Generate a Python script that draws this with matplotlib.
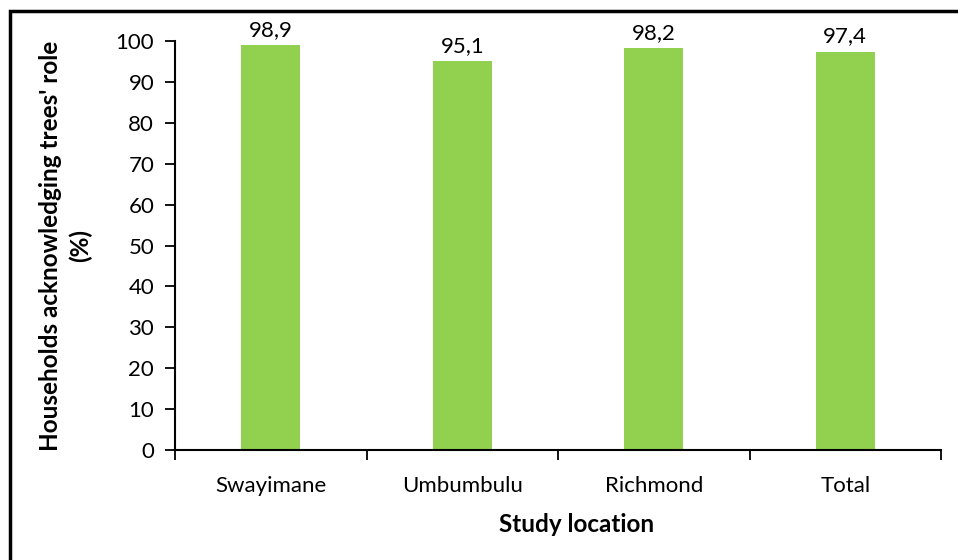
import matplotlib.pyplot as plt
from matplotlib.patches import Rectangle
from matplotlib.ticker import FixedLocator

plt.rcParams['font.family'] = ['Lato', 'DejaVu Sans']

# Data
locations = ['Swayimane', 'Umbumbulu', 'Richmond', 'Total']
percent = [98.9, 95.1, 98.2, 97.4]

fig = plt.figure(figsize=(9.58, 5.6), dpi=100)
ax = fig.add_axes([175 / 958, 110 / 560, 766 / 958, 409 / 560])

x = list(range(len(locations)))
bars = ax.bar(x, percent, width=0.31, color='#92D050')

# Data labels with comma decimal separator
for b, v in zip(bars, percent):
    ax.text(b.get_x() + b.get_width() / 2, v + 1.3, f'{v:.1f}'.replace('.', ','),
            ha='center', va='bottom', fontsize=16)

ax.set_xlim(-0.5, len(locations) - 0.5)
ax.set_ylim(0, 100)
ax.set_yticks(range(0, 101, 10))
ax.set_xticks(x)
ax.set_xticklabels(locations, fontsize=16)
ax.xaxis.set_minor_locator(FixedLocator([i - 0.5 for i in range(len(locations) + 1)]))
ax.tick_params(axis='x', which='major', length=0, pad=19)
ax.tick_params(axis='x', which='minor', length=7, width=1.3, direction='out')
ax.tick_params(axis='y', labelsize=16, length=7, width=1.3, direction='out', pad=8)

for s in ['top', 'right']:
    ax.spines[s].set_visible(False)
for s in ['left', 'bottom']:
    ax.spines[s].set_linewidth(1.5)

ax.set_ylabel("Households acknowledging trees' role\n(%)", fontsize=17.5,
              fontweight='bold', linespacing=1.35)
ax.yaxis.set_label_coords(-0.108, 0.5)
ax.set_xlabel('Study location', fontsize=17.5, fontweight='bold')
ax.xaxis.set_label_coords(0.524, -0.155)

# Outer chart border (extends beyond the right and bottom of the image)
fig.patches.append(Rectangle((10 / 958, -0.05), 1.0, (560 - 11) / 560 + 0.05,
                             transform=fig.transFigure, fill=False,
                             edgecolor='black', linewidth=2.5))

fig.savefig('out.png', dpi=100)
